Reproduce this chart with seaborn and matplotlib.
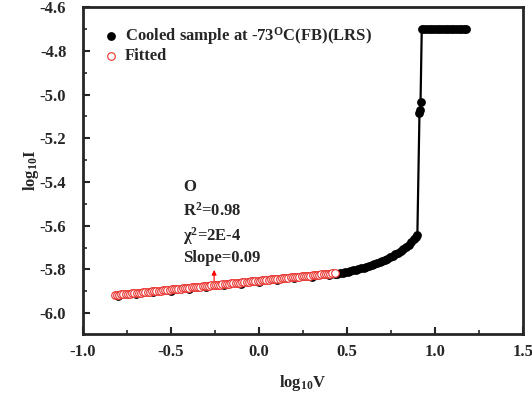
import numpy as np
import pandas as pd
import matplotlib
matplotlib.use("Agg")
import matplotlib.pyplot as plt
import seaborn as sns

# measured data (log10 V, log10 I)
meas_x = [-0.80, -0.70, -0.60, -0.50, -0.40, -0.30, -0.20, -0.10, 0.00, 0.10, 0.20, 0.30, 0.40,
          0.430, 0.445, 0.460, 0.475, 0.490, 0.505, 0.520, 0.535, 0.550, 0.565,
          0.580, 0.595, 0.610, 0.625, 0.640, 0.655, 0.670, 0.685, 0.700, 0.715,
          0.730, 0.745, 0.760, 0.775, 0.790, 0.805, 0.820, 0.835, 0.850, 0.865,
          0.880, 0.890, 0.900,
          0.912, 0.915, 0.918,
          0.925, 0.940, 0.955, 0.970, 0.985, 1.000, 1.015, 1.030, 1.045,
          1.060, 1.075, 1.090, 1.105, 1.120, 1.135, 1.150, 1.165, 1.175]
meas_y = [-5.920, -5.912, -5.905, -5.897, -5.889, -5.881, -5.873, -5.866, -5.857, -5.849, -5.841, -5.833, -5.826,
          -5.822, -5.820, -5.818, -5.816, -5.813, -5.811, -5.808, -5.805, -5.802, -5.799,
          -5.796, -5.793, -5.789, -5.785, -5.781, -5.777, -5.772, -5.767, -5.762, -5.757,
          -5.751, -5.745, -5.738, -5.731, -5.723, -5.715, -5.706, -5.697, -5.687, -5.676,
          -5.663, -5.654, -5.642,
          -5.085, -5.070, -5.035,
          -4.700, -4.700, -4.700, -4.700, -4.700, -4.700, -4.700, -4.700, -4.700,
          -4.700, -4.700, -4.700, -4.700, -4.700, -4.700, -4.700, -4.700, -4.700]

# fitted data
fit_x = [-0.8200, -0.8075, -0.7950, -0.7825, -0.7700, -0.7575, -0.7450, -0.7325, -0.7200, -0.7075,
         -0.6950, -0.6825, -0.6700, -0.6575, -0.6450, -0.6325, -0.6200, -0.6075, -0.5950, -0.5825,
         -0.5700, -0.5575, -0.5450, -0.5325, -0.5200, -0.5075, -0.4950, -0.4825, -0.4700, -0.4575,
         -0.4450, -0.4325, -0.4200, -0.4075, -0.3950, -0.3825, -0.3700, -0.3575, -0.3450, -0.3325,
         -0.3200, -0.3075, -0.2950, -0.2825, -0.2700, -0.2575, -0.2450, -0.2325, -0.2200, -0.2075,
         -0.1950, -0.1825, -0.1700, -0.1575, -0.1450, -0.1325, -0.1200, -0.1075, -0.0950, -0.0825,
         -0.0700, -0.0575, -0.0450, -0.0325, -0.0200, -0.0075, 0.0050, 0.0175, 0.0300, 0.0425,
         0.0550, 0.0675, 0.0800, 0.0925, 0.1050, 0.1175, 0.1300, 0.1425, 0.1550, 0.1675,
         0.1800, 0.1925, 0.2050, 0.2175, 0.2300, 0.2425, 0.2550, 0.2675, 0.2800, 0.2925,
         0.3050, 0.3175, 0.3300, 0.3425, 0.3550, 0.3675, 0.3800, 0.3925, 0.4050, 0.4175,
         0.4300]
fit_y = [-5.9180, -5.9170, -5.9160, -5.9150, -5.9140, -5.9130, -5.9119, -5.9109, -5.9099, -5.9089,
         -5.9079, -5.9069, -5.9059, -5.9049, -5.9039, -5.9029, -5.9018, -5.9008, -5.8998, -5.8988,
         -5.8978, -5.8968, -5.8958, -5.8948, -5.8938, -5.8928, -5.8917, -5.8907, -5.8897, -5.8887,
         -5.8877, -5.8867, -5.8857, -5.8847, -5.8837, -5.8827, -5.8816, -5.8806, -5.8796, -5.8786,
         -5.8776, -5.8766, -5.8756, -5.8746, -5.8736, -5.8726, -5.8715, -5.8705, -5.8695, -5.8685,
         -5.8675, -5.8665, -5.8655, -5.8645, -5.8635, -5.8625, -5.8614, -5.8604, -5.8594, -5.8584,
         -5.8574, -5.8564, -5.8554, -5.8544, -5.8534, -5.8524, -5.8513, -5.8503, -5.8493, -5.8483,
         -5.8473, -5.8463, -5.8453, -5.8443, -5.8433, -5.8423, -5.8412, -5.8402, -5.8392, -5.8382,
         -5.8372, -5.8362, -5.8352, -5.8342, -5.8332, -5.8322, -5.8311, -5.8301, -5.8291, -5.8281,
         -5.8271, -5.8261, -5.8251, -5.8241, -5.8231, -5.8221, -5.8210, -5.8200, -5.8190, -5.8180,
         -5.8170]

x_ticks = [-1.0, -0.5, 0.0, 0.5, 1.0, 1.5]
y_ticks = [-6.0, -5.8, -5.6, -5.4, -5.2, -5.0, -4.8, -4.6]
annot_lines = ["O", "R$^{2}$=0.98", "χ$^{2}$=2E-4", "Slope=0.09"]
annot_y = [-5.424, -5.533, -5.648, -5.748]

sns.set_style("ticks")
plt.rcParams["font.family"] = ["Liberation Serif", "DejaVu Serif"]
plt.rcParams["font.weight"] = "bold"
plt.rcParams["mathtext.fontset"] = "custom"
plt.rcParams["mathtext.rm"] = "Liberation Serif:bold"
plt.rcParams["mathtext.it"] = "Liberation Serif:bold"
plt.rcParams["mathtext.bf"] = "Liberation Serif:bold"

fig = plt.figure(figsize=(5.32, 3.96), dpi=100)
ax = fig.add_axes([0.156, 0.157, 0.827, 0.825])

meas = pd.DataFrame({"x": meas_x, "y": meas_y})
fit = pd.DataFrame({"x": fit_x, "y": fit_y})

sns.lineplot(data=meas, x="x", y="y", sort=False, color="black", linewidth=1.6, ax=ax,
             legend=False, zorder=2)
sns.scatterplot(data=meas, x="x", y="y", color="black", s=40, linewidth=0, ax=ax, zorder=3,
                label="Cooled sample at -73$^{\\mathrm{O}}$C(FB)(LRS)")
sns.scatterplot(data=fit, x="x", y="y", facecolor="white", edgecolor="#e8302c", s=30,
                linewidth=0.8, marker="o", ax=ax, zorder=4, label="Fitted")

for t, yy in zip(annot_lines, annot_y):
    ax.text(-0.43, yy, t, ha="left", va="center", fontsize=12, fontweight="bold")
ax.annotate("", xy=(-0.255, -5.79), xytext=(-0.255, -5.865),
            arrowprops=dict(arrowstyle="-|>", color="red", lw=0.8, mutation_scale=7), zorder=5)

ax.set_xlim(-1.0, 1.5)
ax.set_ylim(-6.095, -4.6)
ax.set_xticks(x_ticks)
ax.set_yticks(y_ticks)
ax.set_xticklabels([f"{v:.1f}" for v in x_ticks], fontsize=12, fontweight="bold")
ax.set_yticklabels([f"{v:.1f}" for v in y_ticks], fontsize=12, fontweight="bold")
ax.set_xticks(np.array([-0.75, -0.25, 0.25, 0.75, 1.25]), minor=True)
ax.set_yticks(np.array([-5.9, -5.7, -5.5, -5.3, -5.1, -4.9, -4.7]), minor=True)
ax.tick_params(axis="x", which="major", direction="in", length=5, width=1.5, pad=7)
ax.tick_params(axis="y", which="major", direction="in", length=5, width=1.5, pad=12)
ax.tick_params(which="minor", direction="in", length=3, width=1.2)
for s in ax.spines.values():
    s.set_linewidth(2)
    s.set_visible(True)

ax.set_xlabel("log$_{10}$V", fontsize=12, fontweight="bold", labelpad=10)
ax.set_ylabel("log$_{10}$I", fontsize=12, fontweight="bold", labelpad=-1)

leg = ax.legend(loc="upper left", bbox_to_anchor=(0.03, 0.965), frameon=False,
                prop={"size": 12, "weight": "bold"}, handletextpad=0.3, labelspacing=0.05,
                borderaxespad=0, handlelength=1.0)

fig.savefig("out.png", dpi=100)
